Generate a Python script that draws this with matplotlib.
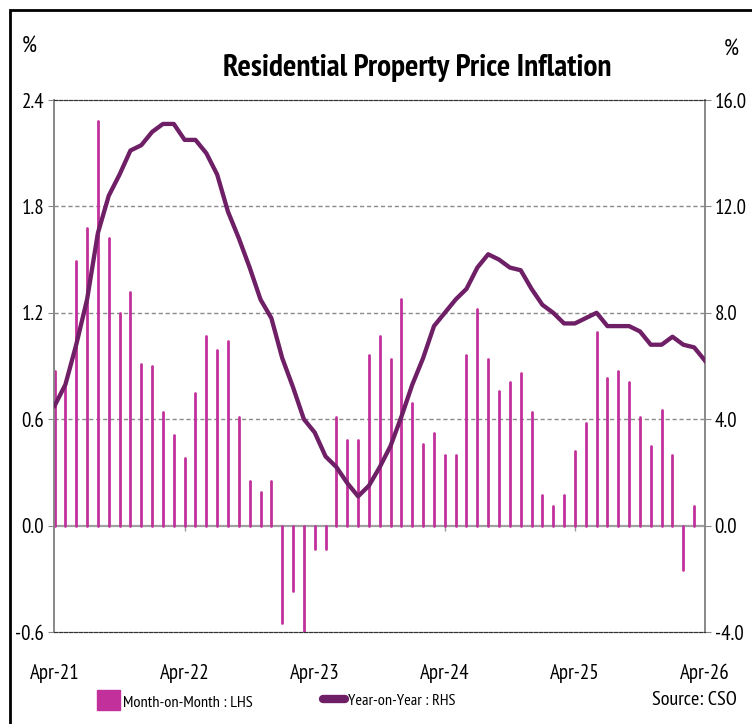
import matplotlib
matplotlib.use("Agg")
import matplotlib.pyplot as plt
import numpy as np
from matplotlib.patches import Patch, Rectangle
from matplotlib.lines import Line2D

# monthly, Apr-21 .. Mar-26 (MoM) and Apr-21 .. Apr-26 (YoY)
mom = [0.87, 0.79, 1.49, 1.68, 2.28, 1.62, 1.20, 1.32, 0.91, 0.90,
       0.64, 0.51, 0.38, 0.75, 1.07, 0.99, 1.04, 0.61, 0.25, 0.19,
       0.25, -0.55, -0.37, -0.62, -0.13, -0.13, 0.61, 0.48, 0.48, 0.96,
       1.07, 0.94, 1.28, 0.69, 0.46, 0.52, 0.40, 0.40, 0.96, 1.22,
       0.94, 0.76, 0.81, 0.86, 0.64, 0.17, 0.11, 0.17, 0.42, 0.58,
       1.09, 0.83, 0.87, 0.81, 0.61, 0.45, 0.65, 0.40, -0.25, 0.11]
yoy = [4.5, 5.3, 6.8, 8.5, 11.0, 12.4, 13.2, 14.1, 14.3, 14.8,
       15.1, 15.1, 14.5, 14.5, 14.0, 13.2, 11.8, 10.8, 9.7, 8.5,
       7.8, 6.3, 5.2, 4.0, 3.5, 2.6, 2.2, 1.6, 1.1, 1.5,
       2.2, 3.0, 4.1, 5.3, 6.3, 7.5, 8.0, 8.5, 8.9, 9.7,
       10.2, 10.0, 9.7, 9.6, 8.9, 8.3, 8.0, 7.6, 7.6, 7.8,
       8.0, 7.5, 7.5, 7.5, 7.3, 6.8, 6.8, 7.1, 6.8, 6.7, 6.2]
xlabels = ["Apr-21", "Apr-22", "Apr-23", "Apr-24", "Apr-25", "Apr-26"]
lhs_ticks = [-0.6, 0.0, 0.6, 1.2, 1.8, 2.4]
rhs_ticks = [-4.0, 0.0, 4.0, 8.0, 12.0, 16.0]

bar_col = "#C2309C"
line_col = "#6E1F66"

plt.rcParams["font.family"] = ["PT Sans Narrow", "Roboto Condensed", "DejaVu Sans"]

fig = plt.figure(figsize=(7.52, 7.24), dpi=100)
ax = fig.add_axes([54/752, 92/724, 651/752, 532/724])
ax2 = ax.twinx()

x_bar = np.arange(len(mom))
x_line = np.arange(len(yoy))
ax.vlines(x_bar, 0, mom, colors=bar_col, linewidth=2.0, capstyle="round", zorder=3)
ax2.plot(x_line, yoy, color=line_col, linewidth=3.1, solid_joinstyle="round", zorder=4)

ax.set_xlim(-0.05, 60)
ax.set_ylim(-0.6, 2.4)
ax2.set_ylim(-4, 16)
ax.set_yticks(lhs_ticks)
ax.set_yticklabels(["%.1f" % v for v in lhs_ticks], fontsize=15)
ax2.set_yticks(rhs_ticks)
ax2.set_yticklabels(["%.1f" % v for v in rhs_ticks], fontsize=15)
ax.tick_params(axis="y", length=4, color="#888888", pad=3)
ax2.tick_params(axis="y", length=4, color="#888888", pad=3)

xt = np.arange(0, 61, 12)
ax.set_xticks(xt)
ax.set_xticklabels(xlabels, fontsize=15)
ax.tick_params(axis="x", length=0, pad=23)
# small tick marks on the zero line
ax.vlines(xt[1:-1], -0.03, 0, colors="#999999", linewidth=1, zorder=2)

for v in [0.6, 1.2, 1.8]:
    ax.axhline(v, color="#8a8a8a", linestyle=(0, (3, 2)), linewidth=1, zorder=1)
ax.axhline(0, color="#a0a0a0", linewidth=1.6, zorder=2)

for a in (ax, ax2):
    a.spines["top"].set_linestyle((0, (3, 1.5)))
    a.spines["bottom"].set_linestyle((0, (3, 1.5)))
    a.spines["top"].set_color("#333333")
    a.spines["bottom"].set_color("#333333")
    a.spines["left"].set_color("#888888")
    a.spines["right"].set_color("#888888")
    a.spines["left"].set_linewidth(1.2)
    a.spines["right"].set_linewidth(1.2)

fig.text(22/752, 1 - 47/724, "%", fontsize=17, ha="left", va="center")
fig.text(724/752, 1 - 50/724, "%", fontsize=17, ha="left", va="center")
title = fig.text(417/752, 1 - 68/724, "Residential Property Price Inflation",
                 fontsize=24, fontweight="bold", ha="center", va="center")

leg1 = fig.legend([Patch(facecolor=bar_col, edgecolor=bar_col)], ["Month-on-Month : LHS"],
                  loc="center left", bbox_to_anchor=(97/752, 1 - 700/724),
                  frameon=False, fontsize=14, handlelength=1.2, handleheight=1.2,
                  handletextpad=0.15, borderpad=0, borderaxespad=0)
leg2 = fig.legend([Line2D([0], [0], color=line_col, linewidth=6, solid_capstyle="round")],
                  ["Year-on-Year : RHS"],
                  loc="center left", bbox_to_anchor=(323/752, 1 - 700/724),
                  frameon=False, fontsize=14, handlelength=1.15,
                  handletextpad=0.15, borderpad=0, borderaxespad=0)
src = fig.text(737/752, 1 - 700/724, "Source: CSO", fontsize=17, ha="right", va="center")

# fit text widths to the reference
fig.canvas.draw()
r = fig.canvas.get_renderer()
for t, w in [(title, 390), (leg1.get_texts()[0], 130), (leg2.get_texts()[0], 108), (src, 85)]:
    bb = t.get_window_extent(r)
    t.set_fontsize(t.get_fontsize() * w / bb.width)

fig.patches.append(Rectangle((10/752, -0.1), 1.2, 1 - 10/724 + 0.1,
                             transform=fig.transFigure, fill=False,
                             edgecolor="black", linewidth=2))

fig.savefig("out.png", dpi=100)
